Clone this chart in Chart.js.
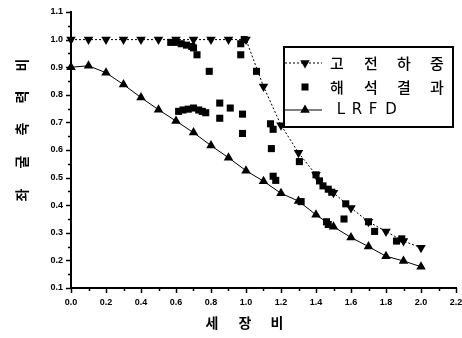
<!DOCTYPE html>
<html><head><meta charset="utf-8">
<script src="https://cdn.jsdelivr.net/npm/chart.js@4.4.1/dist/chart.umd.min.js"></script>
<style>html,body{margin:0;padding:0;background:#fff}</style>
</head><body>
<canvas id="c" width="462" height="338" style="width:462px;height:338px;display:block"></canvas>
<script>
// ---- data ----
const ratioX = [0.0,0.1,0.2,0.3,0.4,0.5,0.6,0.7,0.8,0.9,1.0,1.1,1.2,1.3,1.4,1.5,1.6,1.7,1.8,1.9,2.0];
const classicalLoad = [1.0,1.0,1.0,1.0,1.0,1.0,1.0,1.0,1.0,1.0,1.0,0.83,0.69,0.59,0.51,0.445,0.39,0.34,0.305,0.27,0.246];
const lrfd = [0.9,0.905,0.88,0.837,0.79,0.746,0.705,0.663,0.616,0.572,0.525,0.487,0.443,0.415,0.365,0.322,0.283,0.25,0.215,0.198,0.177];
const analysisX = [0.57,0.60,0.63,0.66,0.69,0.70,0.72,0.79,0.97,0.99,0.97,1.06,
  0.615,0.64,0.67,0.70,0.73,0.75,0.77,0.85,0.91,0.85,0.98,0.98,1.14,1.155,1.145,1.155,1.17,
  1.305,1.315,1.40,1.42,1.44,1.47,1.49,1.46,1.47,1.57,1.56,1.70,1.735,1.86,1.89];
const analysisY = [0.99,0.99,0.985,0.98,0.975,0.97,0.945,0.885,0.985,1.0,0.945,0.885,
  0.74,0.745,0.748,0.752,0.745,0.74,0.735,0.77,0.752,0.715,0.73,0.66,0.695,0.675,0.605,0.505,0.49,
  0.558,0.413,0.51,0.488,0.47,0.458,0.447,0.34,0.33,0.405,0.35,0.34,0.305,0.27,0.278];
const xTicks = [0.0,0.2,0.4,0.6,0.8,1.0,1.2,1.4,1.6,1.8,2.0,2.2];
const yTicks = [0.1,0.2,0.3,0.4,0.5,0.6,0.7,0.8,0.9,1.0,1.1];
const legendLabels = ['고 전 하 중','해 석 결 과','L R F D'];
const xTitle = '세 장 비';
const yTitle = '좌 굴 축 력 비';

const toPts = (xs, ys) => xs.map((x, i) => ({x, y: ys[i]}));

const decor = {
  id: 'decor',
  afterDraw(chart) {
    const ctx = chart.ctx;
    const xs = chart.scales.x, ys = chart.scales.y;
    ctx.save();
    ctx.strokeStyle = '#000';
    ctx.fillStyle = '#000';
    ctx.lineWidth = 1.5;
    const x0 = xs.left;
    for (let v = 0.1; v <= 1.1001; v += 0.05) {
      const py = Math.round(ys.getPixelForValue(v)) + 0.5;
      const major = Math.abs(v * 10 - Math.round(v * 10)) < 1e-6;
      ctx.beginPath(); ctx.moveTo(x0, py); ctx.lineTo(x0 - (major ? 5 : 3), py); ctx.stroke();
    }
    const y0 = ys.bottom;
    for (let v = 0; v <= 2.2001; v += 0.1) {
      const px = Math.round(xs.getPixelForValue(v)) + 0.5;
      const major = Math.abs(v * 5 - Math.round(v * 5)) < 1e-6;
      ctx.beginPath(); ctx.moveTo(px, y0); ctx.lineTo(px, y0 + (major ? 5 : 3)); ctx.stroke();
    }
    // axis titles
    ctx.font = 'bold 14px "Noto Sans CJK KR"';
    ctx.textAlign = 'center'; ctx.textBaseline = 'middle';
    const xPos = [212, 245, 277];
    xTitle.split(' ').forEach((ch, i) => ctx.fillText(ch, xPos[i], 323));
    const yPos = [195, 162, 129, 97, 65];
    yTitle.split(' ').forEach((ch, i) => {
      ctx.save(); ctx.translate(22, yPos[i]); ctx.rotate(-Math.PI / 2);
      ctx.fillText(ch, 0, 0); ctx.restore();
    });
    // legend box
    ctx.fillStyle = '#fff';
    ctx.fillRect(284, 47, 169, 80);
    ctx.fillStyle = '#000';
    ctx.lineWidth = 2;
    ctx.strokeRect(284, 47, 169, 80);
    const rows = [63, 87, 110];
    ctx.lineWidth = 1;
    ctx.setLineDash([2, 2]);
    ctx.beginPath(); ctx.moveTo(285, rows[0]); ctx.lineTo(322, rows[0]); ctx.stroke();
    ctx.setLineDash([]);
    ctx.beginPath(); ctx.moveTo(285, rows[2]); ctx.lineTo(322, rows[2]); ctx.stroke();
    const tri = (cx, cy, r, down) => {
      ctx.beginPath();
      for (let k = 0; k < 3; k++) {
        const a = (down ? Math.PI / 2 : -Math.PI / 2) + k * 2 * Math.PI / 3;
        const px = cx + r * Math.cos(a), py = cy + r * Math.sin(a);
        k ? ctx.lineTo(px, py) : ctx.moveTo(px, py);
      }
      ctx.closePath(); ctx.fill();
    };
    tri(305, rows[0], 5.5, true);
    ctx.fillRect(301.5, rows[1] - 3.5, 7, 7);
    tri(305, rows[2], 5.5, false);
    ctx.font = '500 15px "Noto Sans CJK KR"';
    const kPos = [337, 371, 404, 437];
    legendLabels[0].split(' ').forEach((ch, i) => ctx.fillText(ch, kPos[i], rows[0]));
    legendLabels[1].split(' ').forEach((ch, i) => ctx.fillText(ch, kPos[i], rows[1]));
    ctx.font = '15px "DejaVu Sans"';
    const lPos = [341, 357, 373, 391];
    legendLabels[2].split(' ').forEach((ch, i) => ctx.fillText(ch, lPos[i], rows[2]));
    ctx.restore();
  }
};

new Chart(document.getElementById('c'), {
  type: 'scatter',
  data: {
    datasets: [
      {
        label: legendLabels[0],
        data: toPts(ratioX, classicalLoad),
        showLine: true,
        borderColor: '#000', borderWidth: 1, borderDash: [2, 2],
        pointStyle: 'triangle', rotation: 180, pointRadius: 5.5,
        pointBackgroundColor: '#000', pointBorderColor: '#000', pointBorderWidth: 0,
        clip: false
      },
      {
        label: legendLabels[1],
        data: toPts(analysisX, analysisY),
        showLine: false,
        pointStyle: 'rect', pointRadius: 5,
        pointBackgroundColor: '#000', pointBorderColor: '#000', pointBorderWidth: 0,
        clip: false
      },
      {
        label: legendLabels[2],
        data: toPts(ratioX, lrfd),
        showLine: true,
        borderColor: '#000', borderWidth: 1,
        pointStyle: 'triangle', pointRadius: 5.5,
        pointBackgroundColor: '#000', pointBorderColor: '#000', pointBorderWidth: 0,
        clip: false
      }
    ]
  },
  options: {
    responsive: false,
    animation: false,
    devicePixelRatio: 1,
    layout: { padding: { top: 12, right: 6, left: 0, bottom: 0 } },
    plugins: { legend: { display: false }, tooltip: { enabled: false } },
    elements: { line: { tension: 0 } },
    scales: {
      x: {
        type: 'linear', min: 0, max: 2.2,
        afterFit(s) { s.height = 50; s.paddingLeft = 0; s.paddingRight = 0; },
        afterBuildTicks(s) { s.ticks = xTicks.map(v => ({value: v})); },
        grid: { display: false, drawTicks: false, tickLength: 0 },
        border: { display: true, color: '#000', width: 2 },
        ticks: { color: '#000', padding: 9, maxRotation: 0, autoSkip: false,
          font: { family: '"Liberation Sans", Arial', size: 9, weight: 'bold' },
          callback: v => Number(v).toFixed(1) }
      },
      y: {
        type: 'linear', min: 0.1, max: 1.1,
        afterFit(s) { s.width = 71; s.paddingTop = 0; s.paddingBottom = 0; },
        afterBuildTicks(s) { s.ticks = yTicks.map(v => ({value: v})); },
        grid: { display: false, drawTicks: false, tickLength: 0 },
        border: { display: true, color: '#000', width: 2 },
        ticks: { color: '#000', padding: 8, autoSkip: false,
          font: { family: '"Liberation Sans", Arial', size: 9, weight: 'bold' },
          callback: v => Number(v).toFixed(1) }
      }
    }
  },
  plugins: [decor]
});
</script>
</body></html>
